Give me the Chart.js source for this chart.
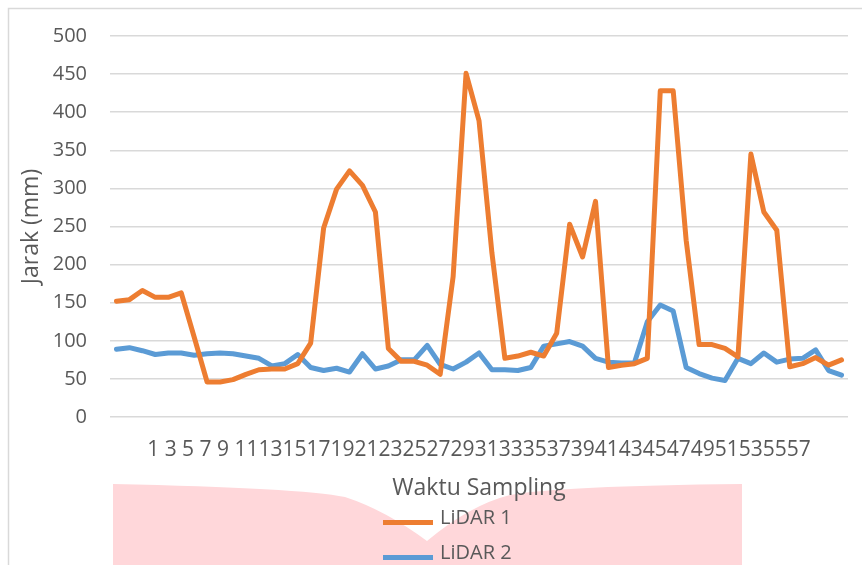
<!DOCTYPE html>
<html>
<head>
<meta charset="utf-8">
<title>Jarak LiDAR</title>
<script src="https://cdn.jsdelivr.net/npm/chart.js@4.4.1/dist/chart.umd.min.js"></script>
<style>
  html, body { margin: 0; padding: 0; background: #ffffff; }
  #wrap { width: 862px; height: 565px; position: relative; }
</style>
</head>
<body>
<div id="wrap"><canvas id="graphicFirst" width="862" height="565"></canvas></div>
<script>
// Jarak LiDAR 1 vs LiDAR 2 per waktu sampling

const categories = [1,2,3,4,5,6,7,8,9,10,11,12,13,14,15,16,17,18,19,20,21,22,23,24,25,26,27,28,29,30,
  31,32,33,34,35,36,37,38,39,40,41,42,43,44,45,46,47,48,49,50,51,52,53,54,55,56,57];

const lidar1 = [152,154,166,157,157,163,105,46,46,49,56,62,63,63,70,97,248,299,323,304,
  269,90,73,73,68,56,184,451,389,215,77,80,85,80,110,253,210,283,65,68,
  70,77,428,428,232,95,95,90,79,345,269,245,66,70,78,68,75];

const lidar2 = [89,91,87,82,84,84,81,83,84,83,80,77,67,70,82,65,61,64,59,83,
  63,67,75,75,94,69,63,72,84,62,62,61,65,93,96,99,93,77,72,71,
  71,125,147,139,65,57,51,48,77,70,84,72,76,77,88,61,55];

const seriesNames = ['LiDAR 1', 'LiDAR 2'];
const seriesColors = ['#ED7D31', '#5B9BD5'];

// every second label is shown, each in a two character slot
const tickLabels = categories.filter(c => c % 2 === 1);
const tickLine = tickLabels.map(c => String(c).padEnd(2, ' ')).join('').trim();

const yTitle = 'Jarak (mm)';
const xTitle = 'Waktu Sampling';

const fontFamily = "'Open Sans', 'Noto Sans', sans-serif";
const textColor = '#595959';

//-----BACKGROUND (frame + pink patch behind the legend)
const backdrop = {
  id: 'backdrop',
  beforeDraw(chart){
    const ctx = chart.ctx;
    ctx.save();
    ctx.fillStyle = '#ffffff';
    ctx.fillRect(0, 0, chart.width, chart.height);
    ctx.strokeStyle = '#d9d9d9';
    ctx.lineWidth = 1.5;
    ctx.beginPath();
    ctx.moveTo(8.5, chart.height);
    ctx.lineTo(8.5, 8.5);
    ctx.lineTo(chart.width, 8.5);
    ctx.stroke();

    ctx.fillStyle = 'rgb(255,215,218)';
    ctx.beginPath();
    ctx.moveTo(113, 484);
    ctx.quadraticCurveTo(300, 488, 345, 497);
    ctx.quadraticCurveTo(385, 510, 427, 541);
    ctx.quadraticCurveTo(470, 505, 510, 495);
    ctx.quadraticCurveTo(560, 486, 742, 484);
    ctx.lineTo(742, chart.height);
    ctx.lineTo(113, chart.height);
    ctx.closePath();
    ctx.fill();
    ctx.restore();
  }
};

//-----LEGEND (stacked rows under the axis title)
const stackedLegend = {
  id: 'stackedLegend',
  afterDraw(chart){
    const ctx = chart.ctx;
    ctx.save();
    ctx.font = '20px ' + fontFamily;
    ctx.textBaseline = 'middle';
    ctx.textAlign = 'left';
    chart.data.datasets.forEach((ds, i) => {
      const y = 518 + i * 35;
      ctx.fillStyle = ds.borderColor;
      ctx.fillRect(383, y + 2, 50, 5);
      ctx.fillStyle = textColor;
      ctx.fillText(ds.label, 440, y);
    });
    ctx.restore();
  }
};

let chart1;
function drawFirstElement(){
  const ctx = document.getElementById('graphicFirst').getContext('2d');
  if (chart1) {
    chart1.destroy();
  }
  const datasets = [lidar1, lidar2].map((values, i) => ({
    label: seriesNames[i],
    data: values,
    borderColor: seriesColors[i],
    backgroundColor: seriesColors[i],
    borderWidth: 5,
    pointRadius: 0,
    tension: 0,
    borderJoinStyle: 'round',
    borderCapStyle: 'round',
    xAxisID: 'x',
    yAxisID: 'y'
  }));

  chart1 = new Chart(ctx, {
    type: 'line',
    data: { labels: categories, datasets: datasets },
    plugins: [backdrop, stackedLegend],
    options: {
      responsive: false,
      animation: false,
      devicePixelRatio: 1,
      layout: { padding: { top: 36, right: 14, bottom: 0, left: 0 } },
      plugins: {
        legend: { display: false },
        tooltip: { enabled: false }
      },
      scales: {
        x: {
          type: 'category',
          offset: true,
          display: false
        },
        xLabels: {
          type: 'category',
          labels: [tickLine],
          position: 'bottom',
          offset: true,
          afterFit: scale => { scale.height = 148; },
          grid: { display: false, drawTicks: false },
          border: { display: false },
          ticks: {
            autoSkip: false,
            maxRotation: 0,
            minRotation: 0,
            padding: 20,
            color: textColor,
            font: { family: fontFamily, size: 21 }
          },
          title: {
            display: true,
            text: xTitle,
            color: textColor,
            font: { family: fontFamily, size: 23 },
            padding: { top: 0, bottom: 63 }
          }
        },
        y: {
          min: 0,
          max: 500,
          afterFit: scale => { scale.width = 110; },
          grid: { color: '#d9d9d9', lineWidth: 1.5, drawTicks: false },
          border: { display: false },
          ticks: {
            stepSize: 50,
            padding: 23,
            color: textColor,
            font: { family: fontFamily, size: 20 }
          },
          title: {
            display: true,
            text: yTitle,
            color: textColor,
            font: { family: fontFamily, size: 23 },
            padding: { top: 18, bottom: 0 }
          }
        }
      }
    }
  });
}

drawFirstElement();
</script>
</body>
</html>
